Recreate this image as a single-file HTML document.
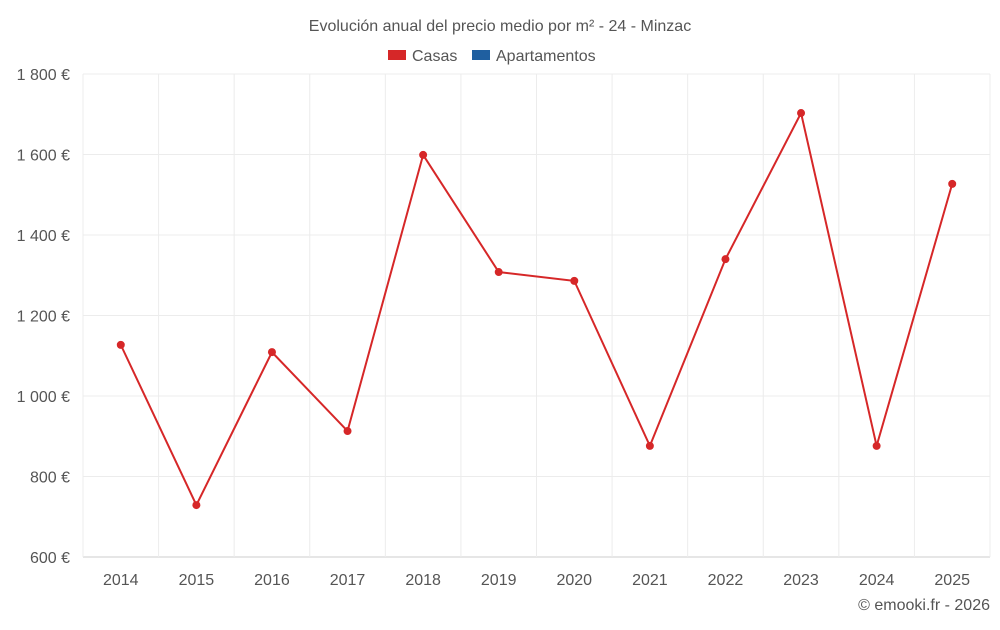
<!DOCTYPE html>
<html><head><meta charset="utf-8"><style>
body{margin:0;background:#fff;font-family:"Liberation Sans",sans-serif;}
svg text{font-family:"Liberation Sans",sans-serif;fill:#555;}
</style></head><body>
<svg id="chart" width="1000" height="625">
<text x="500" y="31" text-anchor="middle" font-size="16">Evolución anual del precio medio por m² - 24 - Minzac</text>
<g>
<g><rect x="388" y="50" width="18" height="10" fill="#d62728"/><text x="412" y="61" font-size="16">Casas</text></g>
<g><rect x="472" y="50" width="18" height="10" fill="#1f5fa0"/><text x="496" y="61" font-size="16">Apartamentos</text></g>
</g>
<g id="grid"></g><g id="axes"></g><g id="series"></g>
<text x="990" y="610" text-anchor="end" font-size="16">© emooki.fr - 2026</text>
</svg>
<script>
const years=["2014","2015","2016","2017","2018","2019","2020","2021","2022","2023","2024","2025"];
const casas=[1127,729,1109,913,1599,1308,1286,876,1340,1703,876,1527];
const yTicks=[600,800,1000,1200,1400,1600,1800];
const yTickLabels=["600 €","800 €","1 000 €","1 200 €","1 400 €","1 600 €","1 800 €"];
const NS="http://www.w3.org/2000/svg";
const L=83,R=990,T=74,B=557,yMin=600,yMax=1800;
const bw=(R-L)/years.length;
const x=i=>L+bw*(i+0.5);
const y=v=>B-(v-yMin)/(yMax-yMin)*(B-T);
function mk(tag,attrs,parent){const e=document.createElementNS(NS,tag);for(const k in attrs)e.setAttribute(k,attrs[k]);document.getElementById(parent).appendChild(e);return e;}
yTicks.forEach((v,i)=>{
 const g=mk('line',{x1:L,x2:R,y1:y(v),y2:y(v),stroke:i==0?'#ccc':'#ececec'},'grid');
 
 
 const t=mk('text',{x:70,y:y(v)+6,'text-anchor':'end','font-size':16},'axes');
 t.textContent=yTickLabels[i];
 
 
});
for(let i=0;i<=years.length;i++){
 const g=mk('line',{x1:L+bw*i,x2:L+bw*i,y1:T,y2:B,stroke:'#ececec'},'grid');
 
 
}
years.forEach((yr,i)=>{
 const t=mk('text',{x:x(i),y:585,'text-anchor':'middle','font-size':16},'axes');
 t.textContent=yr;
 
 
});
const p=mk('polyline',{points:casas.map((v,i)=>x(i)+','+y(v)).join(' '),fill:'none',stroke:'#d62728','stroke-width':2},'series');


casas.forEach((v,i)=>{
 const c=mk('circle',{cx:x(i),cy:y(v),r:4,fill:'#d62728'},'series');
 
 
});
</script>
</body></html>
